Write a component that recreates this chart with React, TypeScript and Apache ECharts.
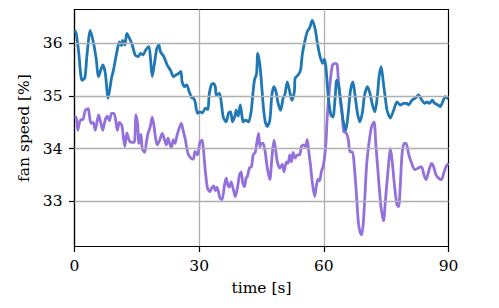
import React, { useEffect, useRef } from "react";
import * as echarts from "echarts";

const blueT = [0.0,0.4,1.0,1.8,2.5,3.0,3.8,4.6,5.2,5.8,6.8,7.4,8.1,8.9,9.4,10.2,10.8,11.3,11.6,12.1,12.6,13.2,13.8,14.6,15.3,15.9,16.5,17.1,17.9,18.3,18.7,19.3,19.8,20.3,20.7,21.5,22.3,23.1,23.8,24.4,25.1,25.6,25.9,26.5,27.0,27.6,28.2,28.6,29.0,29.6,30.2,30.8,31.5,32.1,32.4,32.9,33.4,33.9,34.1,34.9,35.3,35.8,36.5,37.1,37.6,38.0,38.6,38.9,39.4,39.9,40.3,40.6,41.2,41.9,42.5,42.9,43.3,43.8,44.1,44.6,45.0,45.4,45.9,46.4,47.0,47.5,48.0,48.5,49.0,49.6,50.2,50.6,51.2,51.8,52.3,52.9,53.1,53.8,54.4,54.8,55.4,56.0,56.6,57.2,57.9,58.4,59.0,59.7,60.1,60.5,61.1,61.7,62.2,62.7,63.1,63.5,64.0,64.7,65.3,65.9,66.4,67.0,67.5,68.1,68.7,69.3,69.8,70.5,71.1,71.7,72.3,72.9,73.3,73.8,74.4,74.9,75.2,76.0,76.8,77.6,78.4,79.2,80.0,80.4,81.2,82.0,82.8,83.6,84.3,84.8,85.4,86.1,86.7,87.5,88.0,88.6,89.2,89.7,90.0];
const blueV = [36.25,36.2,35.84,35.3,35.35,35.78,36.25,36.0,35.72,35.37,35.59,35.44,34.96,35.34,35.5,35.84,36.03,35.96,36.06,35.97,36.19,36.1,36.0,35.78,35.75,35.81,35.78,35.87,35.94,35.7,35.37,35.65,35.9,35.97,35.84,35.75,35.59,35.49,35.37,35.4,35.43,35.47,35.27,35.18,35.21,35.08,34.97,34.96,34.9,34.67,34.7,34.68,34.77,34.74,35.02,35.21,35.24,35.17,35.02,35.05,34.89,34.6,34.51,34.68,34.7,34.51,34.62,34.73,34.62,34.83,34.62,34.51,34.54,34.51,34.7,35.02,35.3,35.42,35.81,35.6,35.25,34.83,34.51,34.42,34.54,35.02,35.18,35.08,34.86,34.73,34.96,35.02,35.27,35.08,34.92,35.08,35.34,35.4,35.49,35.78,36.03,36.22,36.3,36.44,36.28,36.03,35.78,35.62,35.7,35.55,34.96,34.64,34.6,34.95,35.3,35.25,34.9,34.51,34.35,34.7,35.1,35.27,35.02,34.67,34.51,34.7,35.02,35.18,35.05,34.83,34.7,35.02,35.37,35.56,35.2,34.9,34.73,34.58,34.73,34.89,34.83,34.86,34.86,34.83,34.92,34.96,35.02,34.92,34.86,34.89,34.86,34.92,34.86,34.83,34.8,34.89,34.99,34.96,34.95];

const purpleT = [0.0,0.4,0.8,1.2,1.6,2.0,2.6,3.3,3.6,4.0,4.5,5.0,5.4,5.8,6.3,6.8,7.4,7.9,8.4,8.9,9.5,10.0,10.3,10.8,11.4,12.1,12.6,13.2,13.8,14.4,14.8,15.2,15.5,16.0,16.3,16.9,17.3,17.7,18.2,18.7,19.1,19.5,19.9,20.5,21.1,21.7,22.1,22.5,22.9,23.3,23.8,24.2,24.7,25.2,25.7,26.1,26.6,27.3,28.0,28.6,29.0,29.6,30.2,30.7,31.0,31.5,32.0,32.6,33.0,33.5,33.9,34.3,35.0,35.5,36.1,36.5,36.9,37.3,37.7,38.3,38.7,39.2,39.7,40.1,40.5,40.9,41.3,41.6,42.1,42.6,43.0,43.5,43.8,44.3,44.6,45.0,45.4,45.9,46.4,47.0,47.5,48.0,48.3,48.8,49.4,50.0,50.4,51.0,51.4,51.8,52.2,52.6,53.1,53.6,54.2,54.6,55.2,55.6,56.0,56.4,56.8,57.2,57.8,58.2,58.6,59.0,59.4,59.9,60.5,60.8,61.3,61.7,62.1,62.7,63.2,63.6,64.3,64.8,65.4,65.9,66.3,66.9,67.3,67.8,68.3,68.7,69.1,69.5,69.9,70.3,70.9,71.5,72.1,72.5,73.0,73.7,74.2,74.4,74.8,75.5,76.0,76.4,77.0,77.6,78.0,78.4,78.8,79.3,79.8,80.4,81.0,81.9,82.7,83.5,84.1,84.6,85.2,85.9,86.4,87.0,87.6,88.3,88.8,89.4,90.0];
const purpleV = [34.6,34.6,34.35,34.5,34.55,34.55,34.73,34.76,34.62,34.48,34.5,34.35,34.5,34.64,34.5,34.35,34.55,34.62,34.53,34.67,34.67,34.5,34.35,34.5,34.44,34.04,34.3,34.15,34.12,34.12,34.64,34.45,34.1,34.27,34.0,33.93,34.12,34.29,34.41,34.6,34.45,34.2,34.07,34.16,34.29,34.16,34.07,34.2,34.1,34.02,34.17,34.1,34.26,34.39,34.48,34.36,34.2,33.91,33.82,33.8,33.95,33.88,34.13,34.16,34.0,33.56,33.25,33.18,33.25,33.29,33.2,33.27,33.06,33.03,33.31,33.44,33.31,33.27,33.37,33.2,33.09,33.25,33.5,33.56,33.35,33.28,33.44,33.47,33.63,33.66,33.88,33.93,34.08,34.29,34.04,34.1,34.1,33.93,33.63,33.41,33.82,34.16,34.04,33.75,33.63,33.7,33.56,33.75,33.72,33.88,33.75,33.93,33.82,33.88,33.88,34.04,34.07,34.04,34.17,33.93,33.68,33.37,33.09,33.29,33.42,33.39,33.56,33.68,34.1,34.58,35.08,35.4,35.59,35.62,35.6,35.2,34.77,34.32,34.3,34.17,33.94,33.94,33.7,33.18,32.61,32.42,32.36,32.6,33.12,33.69,34.13,34.42,34.51,34.1,33.6,32.93,32.68,32.63,33.0,33.63,34.0,33.8,33.3,32.93,32.9,33.3,33.88,34.1,34.1,33.9,33.75,33.6,33.63,33.66,33.5,33.41,33.56,33.72,33.66,33.5,33.44,33.41,33.52,33.66,33.72];

const xTicks = [0, 30, 60, 90];
const yTicks = [33, 34, 35, 36];

const FONT = "'DejaVu Serif', serif";

export default function App() {
  const ref = useRef<HTMLDivElement>(null);
  useEffect(() => {
    if (!ref.current) return;
    const chart = echarts.init(ref.current, undefined, { renderer: "svg" });
    const blue = blueT.map((t, i) => [t, blueV[i]]);
    const purple = purpleT.map((t, i) => [t, purpleV[i]]);
    chart.setOption({
      animation: false,
      backgroundColor: "#fff",
      grid: {
        left: 74.5,
        top: 9.5,
        width: 374,
        height: 237,
        show: true,
        borderColor: "#000",
        borderWidth: 1.2,
        backgroundColor: "transparent",
        outerBoundsMode: "none",
        containLabel: false,
      },
      xAxis: {
        type: "value",
        min: 0,
        max: 90,
        interval: 30,
        name: "time [s]",
        nameLocation: "middle",
        nameGap: 33,
        nameTextStyle: { fontFamily: FONT, fontSize: 15.5, color: "#000" },
        axisLine: { show: true, onZero: false, lineStyle: { color: "#000", width: 1.2 } },
        axisTick: { show: true, inside: false, length: 5.5, lineStyle: { color: "#000", width: 1.2 } },
        axisLabel: { fontFamily: FONT, fontSize: 15.5, color: "#000", margin: 11 },
        splitLine: { show: true, showMinLine: false, showMaxLine: false, lineStyle: { color: "#b0b0b0", width: 1.3 } },
      },
      yAxis: {
        type: "value",
        min: 32.14,
        max: 36.645,
        name: "fan speed [%]",
        nameLocation: "middle",
        nameGap: 41,
        nameTextStyle: { fontFamily: FONT, fontSize: 15.5, color: "#000" },
        axisLine: { show: true, onZero: false, lineStyle: { color: "#000", width: 1.2 } },
        axisTick: { show: true, inside: false, length: 5.5, lineStyle: { color: "#000", width: 1.2 }, customValues: yTicks },
        axisLabel: { fontFamily: FONT, fontSize: 15.5, color: "#000", margin: 12, customValues: yTicks },
        splitLine: { show: false },
      },
      series: [
        {
          type: "line",
          data: [],
          silent: true,
          z: 1,
          markLine: {
            silent: true,
            symbol: "none",
            label: { show: false },
            lineStyle: { color: "#b0b0b0", width: 1.3, type: "solid" },
            data: yTicks.map((v) => ({ yAxis: v })),
          },
        },
        {
          type: "line",
          data: blue,
          showSymbol: false,
          smooth: 0.25,
          lineStyle: { color: "#1f77b4", width: 2.8 },
          itemStyle: { color: "#1f77b4" },
          z: 3,
        },
        {
          type: "line",
          data: purple,
          showSymbol: false,
          smooth: 0.25,
          lineStyle: { color: "#9370db", width: 2.8 },
          itemStyle: { color: "#9370db" },
          z: 2,
        },
      ],
    });
    return () => chart.dispose();
  }, []);
  return <div ref={ref} style={{ width: 499, height: 308, position: "absolute", left: 0, top: 0 }} />;
}
